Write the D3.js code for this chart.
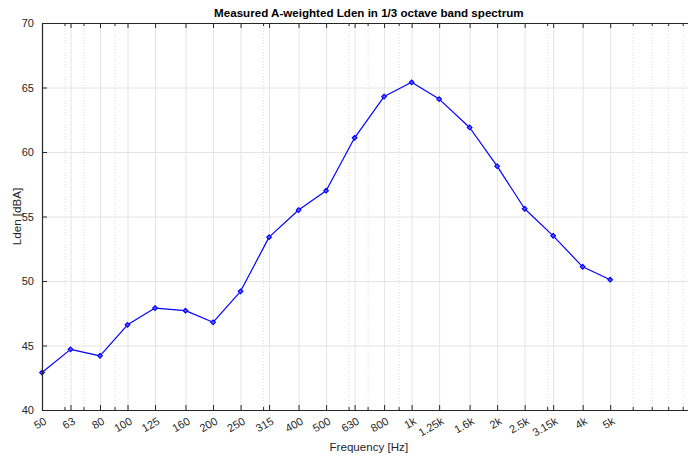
<!DOCTYPE html>
<html>
<head>
<meta charset="utf-8">
<script src="https://cdn.jsdelivr.net/npm/d3@7"></script>
<style>
  html, body { margin: 0; padding: 0; background: #fff; }
  svg { display: block; font-family: "Liberation Sans", Arial, Helvetica, sans-serif; }
</style>
</head>
<body>
<svg id="chart" width="688" height="456"></svg>
<script>
// 1/3 octave band centre frequencies (nominal) and their labels
const bandFreqs = [50, 63, 80, 100, 125, 160, 200, 250, 315, 400, 500, 630,
                   800, 1000, 1250, 1600, 2000, 2500, 3150, 4000, 5000];
const bandLabels = ["50", "63", "80", "100", "125", "160", "200", "250", "315", "400", "500", "630",
                    "800", "1k", "1.25k", "1.6k", "2k", "2.5k", "3.15k", "4k", "5k"];
// Measured A-weighted Lden per band [dBA]
const ldenValues = [42.9, 44.7, 44.2, 46.6, 47.9, 47.7, 46.8, 49.2, 53.4, 55.5, 57.0, 61.1,
                    64.3, 65.4, 64.1, 61.9, 58.9, 55.6, 53.5, 51.1, 50.1];
// Log-axis minor positions that do not coincide with a band tick
const minorFreqs = [60, 70, 90, 300, 600, 700, 900, 3000, 6000, 7000, 8000, 9000];
const yTickValues = [40, 45, 50, 55, 60, 65, 70];

const svg = d3.select("#chart");
const plotLeft = 42, plotRight = 695.7, plotTop = 23, plotBottom = 410;

const x = d3.scaleLog().domain([50, 10000]).range([plotLeft, plotRight]);
const y = d3.scaleLinear().domain([40, 70]).range([plotBottom, plotTop]);

const axisColor = "#262626";
const fontFamily = "Liberation Sans, Arial, sans-serif";

// Minor grid (dotted)
svg.append("g")
  .attr("transform", `translate(0,${plotBottom})`)
  .call(d3.axisBottom(x).tickValues(minorFreqs).tickSize(-(plotBottom - plotTop)).tickFormat(""))
  .call(g => g.select(".domain").remove())
  .call(g => g.selectAll("line").attr("stroke", "#dcdcdc").attr("stroke-dasharray", "1,2"));

// Major grid
svg.append("g")
  .attr("transform", `translate(0,${plotBottom})`)
  .call(d3.axisBottom(x).tickValues(bandFreqs).tickSize(-(plotBottom - plotTop)).tickFormat(""))
  .call(g => g.select(".domain").remove())
  .call(g => g.selectAll("line").attr("stroke", "#e4e4e4"));
svg.append("g")
  .attr("transform", `translate(${plotLeft},0)`)
  .call(d3.axisLeft(y).tickValues(yTickValues).tickSize(-(plotRight - plotLeft)).tickFormat(""))
  .call(g => g.select(".domain").remove())
  .call(g => g.selectAll("line").attr("stroke", "#e4e4e4"));

// Data line and markers
const line = d3.line().x((d, i) => x(bandFreqs[i])).y(d => y(d));
svg.append("path")
  .datum(ldenValues)
  .attr("fill", "none")
  .attr("stroke", "#0000ff")
  .attr("stroke-width", 1.2)
  .attr("stroke-linejoin", "round")
  .attr("d", line);

const diamond = d3.symbol().type(d3.symbolDiamond2).size(14);
svg.append("g")
  .selectAll("path")
  .data(ldenValues)
  .join("path")
  .attr("transform", (d, i) => `translate(${x(bandFreqs[i])},${y(d)})`)
  .attr("d", diamond)
  .attr("fill", "#5c5cff")
  .attr("stroke", "#0000ff")
  .attr("stroke-width", 1.1);

// Axes: inward ticks, box on top
function styleAxis(g) {
  g.select(".domain").attr("stroke", axisColor).attr("stroke-width", 1.2);
  g.selectAll("line").attr("stroke", axisColor);
}
// bottom major / minor ticks
svg.append("g")
  .attr("transform", `translate(0,${plotBottom})`)
  .call(d3.axisBottom(x).tickValues(bandFreqs).tickSizeInner(-5).tickSizeOuter(0).tickFormat(""))
  .call(styleAxis);
svg.append("g")
  .attr("transform", `translate(0,${plotBottom})`)
  .call(d3.axisBottom(x).tickValues(minorFreqs).tickSizeInner(-3).tickSizeOuter(0).tickFormat(""))
  .call(g => g.select(".domain").remove())
  .call(g => g.selectAll("line").attr("stroke", axisColor));
// top major / minor ticks
svg.append("g")
  .attr("transform", `translate(0,${plotTop})`)
  .call(d3.axisTop(x).tickValues(bandFreqs).tickSizeInner(-5).tickSizeOuter(0).tickFormat(""))
  .call(styleAxis);
svg.append("g")
  .attr("transform", `translate(0,${plotTop})`)
  .call(d3.axisTop(x).tickValues(minorFreqs).tickSizeInner(-3).tickSizeOuter(0).tickFormat(""))
  .call(g => g.select(".domain").remove())
  .call(g => g.selectAll("line").attr("stroke", axisColor));
// left axis
svg.append("g")
  .attr("transform", `translate(${plotLeft},0)`)
  .call(d3.axisLeft(y).tickValues(yTickValues).tickSizeInner(-5).tickSizeOuter(0).tickPadding(8))
  .call(styleAxis)
  .call(g => g.selectAll("text")
    .attr("fill", axisColor)
    .attr("font-size", 11)
    .attr("font-family", fontFamily));

// Rotated band labels on the x axis
svg.append("g")
  .attr("transform", `translate(0,${plotBottom})`)
  .call(d3.axisBottom(x).tickValues(bandFreqs).tickSize(0)
    .tickFormat((d, i) => bandLabels[i]))
  .call(g => g.select(".domain").remove())
  .call(g => g.selectAll("text")
    .attr("fill", axisColor)
    .attr("font-size", 11)
    .attr("font-family", fontFamily)
    .attr("text-anchor", "end")
    .attr("y", 0)
    .attr("dy", "0.35em")
    .attr("transform", "translate(3,10) rotate(-30)"));

// Titles
svg.append("text")
  .attr("x", (plotLeft + plotRight) / 2)
  .attr("y", 17)
  .attr("text-anchor", "middle")
  .attr("font-size", 11.6)
  .attr("font-weight", "bold")
  .attr("font-family", fontFamily)
  .attr("fill", "#000")
  .text("Measured A-weighted Lden in 1/3 octave band spectrum");

svg.append("text")
  .attr("x", (plotLeft + plotRight) / 2)
  .attr("y", 451)
  .attr("text-anchor", "middle")
  .attr("font-size", 11.6)
  .attr("font-family", fontFamily)
  .attr("fill", axisColor)
  .text("Frequency [Hz]");

svg.append("text")
  .attr("transform", `translate(21,${(plotTop + plotBottom) / 2}) rotate(-90)`)
  .attr("text-anchor", "middle")
  .attr("font-size", 11.6)
  .attr("font-family", fontFamily)
  .attr("fill", axisColor)
  .text("Lden [dBA]");
</script>
</body>
</html>
